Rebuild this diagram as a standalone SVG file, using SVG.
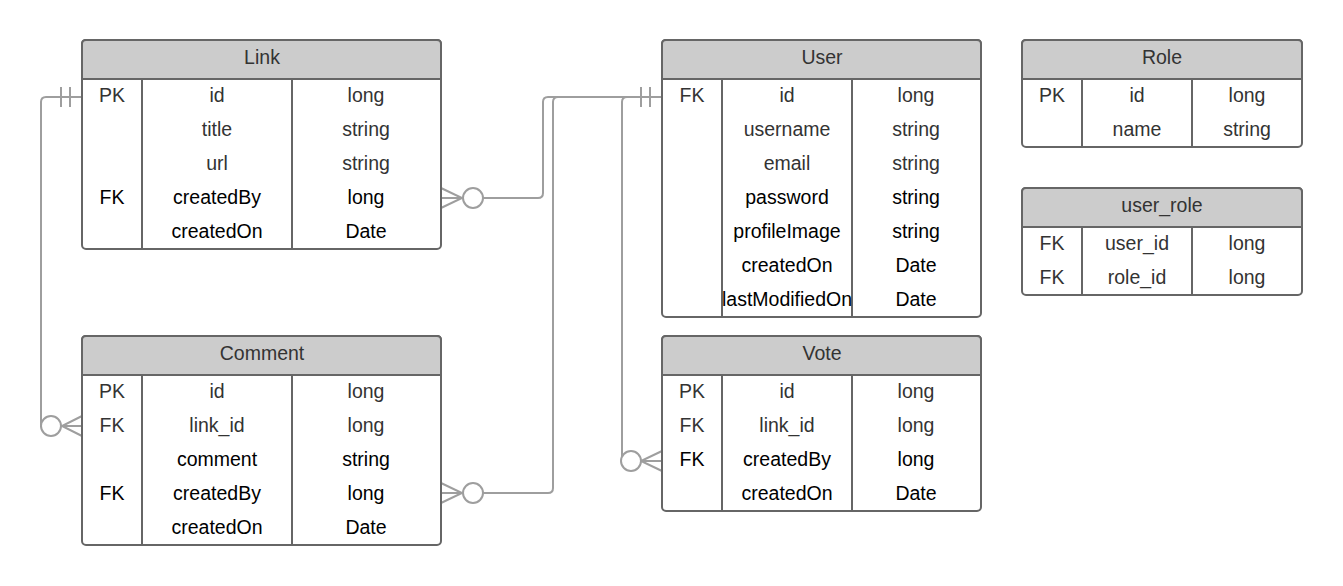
<svg xmlns="http://www.w3.org/2000/svg" width="1343" height="586" viewBox="0 0 1343 586">
<style>
.box{fill:#fff;stroke:#666;stroke-width:2}
.hdr{fill:#ccc;stroke:#666;stroke-width:2}
.ln{stroke:#666;stroke-width:2;fill:none}
text{font-family:"Liberation Sans",Arial,sans-serif;font-size:19.5px;text-anchor:middle;fill:#333}
.k{fill:#000}
.c{fill:none;stroke:#9e9e9e;stroke-width:2}
.circ{fill:#fff;stroke:#9e9e9e;stroke-width:2}
</style>
<g id="connectors">
<path class="c" d="M82,97 H46 Q41,97 41,102 V426 H62"/>
<path class="c" d="M61,87 V107 M70,87 V107"/>
<path class="c" d="M82,416 L62,426 L82,436 M82,426 H62"/>
<circle class="circ" cx="51" cy="426" r="10"/>
<path class="c" d="M662,97 H548 Q543,97 543,102 V193 Q543,198 538,198 H483"/>
<path class="c" d="M662,97 H558 Q553,97 553,102 V488 Q553,493 548,493 H483"/>
<path class="c" d="M662,97 H627 Q622,97 622,102 V461 H640"/>
<path class="c" d="M641,87 V107 M650,87 V107"/>
<path class="c" d="M441,188 L462,198 L441,208 M441,198 H462"/>
<circle class="circ" cx="473" cy="198" r="10"/>
<path class="c" d="M441,483 L462,493 L441,503 M441,493 H462"/>
<circle class="circ" cx="473" cy="493" r="10"/>
<path class="c" d="M662,451 L641,461 L662,471 M662,461 H641"/>
<circle class="circ" cx="631" cy="461" r="10"/>
</g>
<g id="Link">
<rect class="box" x="82" y="40" width="359" height="209" rx="4"/>
<path class="hdr" d="M82,79 V44 Q82,40 86,40 H437 Q441,40 441,44 V79 Z"/>
<path class="ln" d="M142,79 V249 M292,79 V249"/>
<text x="262" y="64">Link</text>
<text x="112" y="102">PK</text><text x="217" y="102">id</text><text x="366" y="102">long</text>
<text x="217" y="136">title</text><text x="366" y="136">string</text>
<text x="217" y="170">url</text><text x="366" y="170">string</text>
<text class="k" x="112" y="204">FK</text><text class="k" x="217" y="204">createdBy</text><text class="k" x="366" y="204">long</text>
<text class="k" x="217" y="238">createdOn</text><text class="k" x="366" y="238">Date</text>
</g>
<g id="User">
<rect class="box" x="662" y="40" width="319" height="277" rx="4"/>
<path class="hdr" d="M662,79 V44 Q662,40 666,40 H977 Q981,40 981,44 V79 Z"/>
<path class="ln" d="M722,79 V317 M852,79 V317"/>
<text x="822" y="64">User</text>
<text x="692" y="102">FK</text><text x="787" y="102">id</text><text x="916" y="102">long</text>
<text x="787" y="136">username</text><text x="916" y="136">string</text>
<text x="787" y="170">email</text><text x="916" y="170">string</text>
<text class="k" x="787" y="204">password</text><text class="k" x="916" y="204">string</text>
<text class="k" x="787" y="238">profileImage</text><text class="k" x="916" y="238">string</text>
<text class="k" x="787" y="272">createdOn</text><text class="k" x="916" y="272">Date</text>
<text class="k" x="787" y="306">lastModifiedOn</text><text class="k" x="916" y="306">Date</text>
</g>
<g id="Role">
<rect class="box" x="1022" y="40" width="280" height="107" rx="4"/>
<path class="hdr" d="M1022,79 V44 Q1022,40 1026,40 H1298 Q1302,40 1302,44 V79 Z"/>
<path class="ln" d="M1082,79 V147 M1192,79 V147"/>
<text x="1162" y="64">Role</text>
<text x="1052" y="102">PK</text><text x="1137" y="102">id</text><text x="1247" y="102">long</text>
<text x="1137" y="136">name</text><text x="1247" y="136">string</text>
</g>
<g id="user_role">
<rect class="box" x="1022" y="188" width="280" height="107" rx="4"/>
<path class="hdr" d="M1022,227 V192 Q1022,188 1026,188 H1298 Q1302,188 1302,192 V227 Z"/>
<path class="ln" d="M1082,227 V295 M1192,227 V295"/>
<text x="1162" y="212">user_role</text>
<text x="1052" y="250">FK</text><text x="1137" y="250">user_id</text><text x="1247" y="250">long</text>
<text x="1052" y="284">FK</text><text x="1137" y="284">role_id</text><text x="1247" y="284">long</text>
</g>
<g id="Comment">
<rect class="box" x="82" y="336" width="359" height="209" rx="4"/>
<path class="hdr" d="M82,375 V340 Q82,336 86,336 H437 Q441,336 441,340 V375 Z"/>
<path class="ln" d="M142,375 V545 M292,375 V545"/>
<text x="262" y="360">Comment</text>
<text x="112" y="398">PK</text><text x="217" y="398">id</text><text x="366" y="398">long</text>
<text x="112" y="432">FK</text><text x="217" y="432">link_id</text><text x="366" y="432">long</text>
<text class="k" x="217" y="466">comment</text><text class="k" x="366" y="466">string</text>
<text class="k" x="112" y="500">FK</text><text class="k" x="217" y="500">createdBy</text><text class="k" x="366" y="500">long</text>
<text class="k" x="217" y="534">createdOn</text><text class="k" x="366" y="534">Date</text>
</g>
<g id="Vote">
<rect class="box" x="662" y="336" width="319" height="175" rx="4"/>
<path class="hdr" d="M662,375 V340 Q662,336 666,336 H977 Q981,336 981,340 V375 Z"/>
<path class="ln" d="M722,375 V511 M852,375 V511"/>
<text x="822" y="360">Vote</text>
<text x="692" y="398">PK</text><text x="787" y="398">id</text><text x="916" y="398">long</text>
<text x="692" y="432">FK</text><text x="787" y="432">link_id</text><text x="916" y="432">long</text>
<text class="k" x="692" y="466">FK</text><text class="k" x="787" y="466">createdBy</text><text class="k" x="916" y="466">long</text>
<text class="k" x="787" y="500">createdOn</text><text class="k" x="916" y="500">Date</text>
</g>
</svg>
